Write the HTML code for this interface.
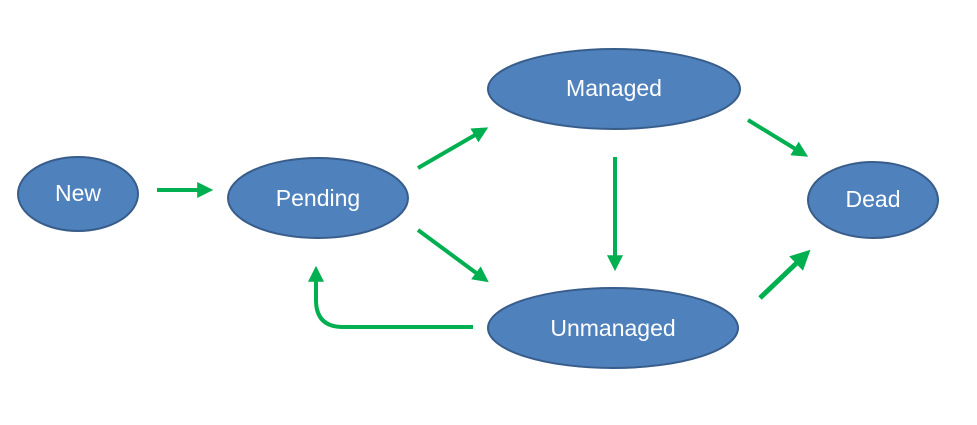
<!DOCTYPE html>
<html><head><style>
html,body{margin:0;padding:0;background:#fff;}
svg{display:block;}
text{font-family:"Liberation Sans",sans-serif;font-size:23px;fill:#fff;text-anchor:middle;dominant-baseline:central;}
</style></head><body>
<svg width="977" height="425" viewBox="0 0 977 425" xmlns="http://www.w3.org/2000/svg">
<defs>
<marker id="a" markerWidth="4" markerHeight="4" refX="2.2" refY="2" orient="auto" markerUnits="strokeWidth">
<path d="M0,0 L4,2 L0,4 Z" fill="#00b050"/>
</marker>
</defs>
<g fill="#4f81bd" stroke="#385d8a" stroke-width="2">
<ellipse cx="78" cy="194" rx="60" ry="37"/>
<ellipse cx="318" cy="198" rx="90" ry="40"/>
<ellipse cx="614" cy="89" rx="126" ry="40"/>
<ellipse cx="873" cy="200" rx="65" ry="38"/>
<ellipse cx="613" cy="328" rx="125" ry="40"/>
</g>
<text x="78" y="193">New</text>
<text x="318" y="198">Pending</text>
<text x="614" y="88">Managed</text>
<text x="873" y="199">Dead</text>
<text x="613" y="328">Unmanaged</text>
<g stroke="#00b050" stroke-width="4" fill="none" marker-end="url(#a)">
<line x1="157" y1="190" x2="206" y2="190"/>
<line x1="418" y1="168" x2="482" y2="131"/>
<line x1="418" y1="230" x2="483" y2="278"/>
<line x1="615" y1="157" x2="615" y2="264"/>
<line x1="748" y1="120" x2="802" y2="153"/>
<line x1="760" y1="298" x2="804" y2="256" stroke-width="5"/>
<path d="M473,327 L343,327 Q316,327 316,300 L316,273"/>
</g>
</svg>
</body></html>
